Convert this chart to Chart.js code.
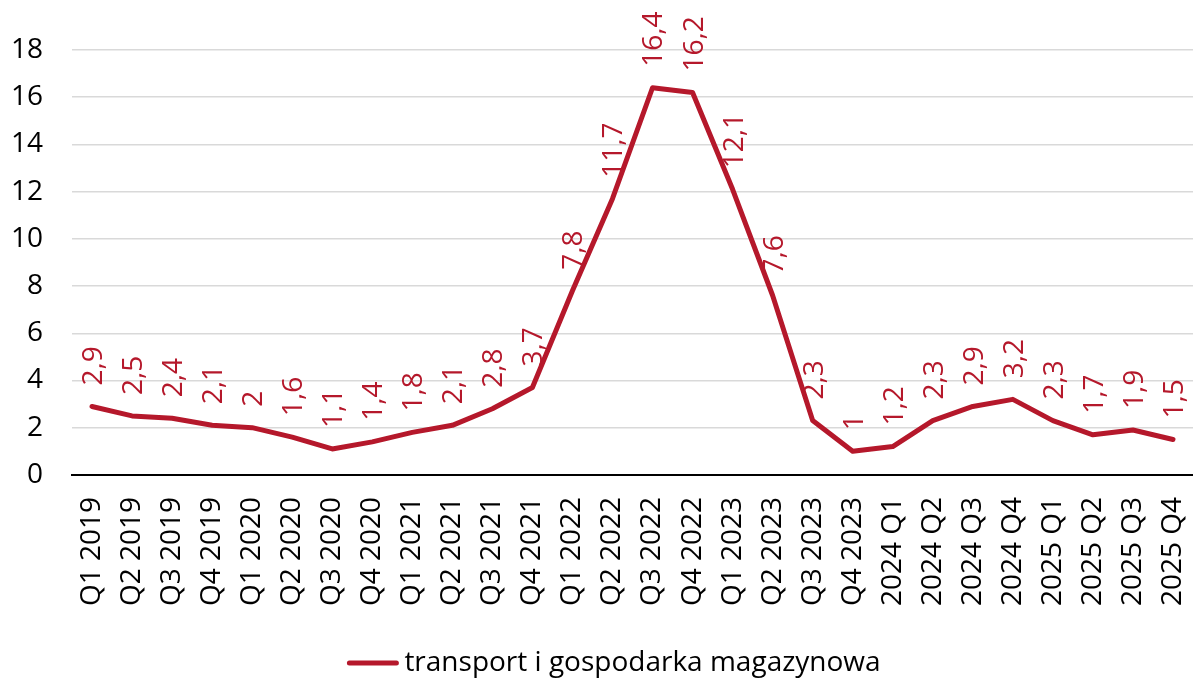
<!DOCTYPE html>
<html>
<head>
<meta charset="utf-8">
<script src="https://cdn.jsdelivr.net/npm/chart.js@4"></script>
<style>
  html, body { margin: 0; padding: 0; background: #fff; }
  #wrap { width: 1193px; height: 679px; }
</style>
</head>
<body>
<div id="wrap"><canvas id="c" width="1193" height="679"></canvas></div>
<script>
// --- data
var quarters = ['Q1 2019', 'Q2 2019', 'Q3 2019', 'Q4 2019', 'Q1 2020', 'Q2 2020', 'Q3 2020', 'Q4 2020',
    'Q1 2021', 'Q2 2021', 'Q3 2021', 'Q4 2021', 'Q1 2022', 'Q2 2022', 'Q3 2022', 'Q4 2022',
    'Q1 2023', 'Q2 2023', 'Q3 2023', 'Q4 2023', '2024 Q1', '2024 Q2', '2024 Q3', '2024 Q4',
    '2025 Q1', '2025 Q2', '2025 Q3', '2025 Q4'];
var transport = [2.9, 2.5, 2.4, 2.1, 2, 1.6, 1.1, 1.4, 1.8, 2.1, 2.8, 3.7, 7.8, 11.7, 16.4, 16.2,
    12.1, 7.6, 2.3, 1, 1.2, 2.3, 2.9, 3.2, 2.3, 1.7, 1.9, 1.5];
var seriesName = 'transport i gospodarka magazynowa';
var yTicks = [0, 2, 4, 6, 8, 10, 12, 14, 16, 18];

var red = '#B5182B';
var fontFam = "'Open Sans', 'Liberation Sans', sans-serif";
var fontSize = 28;

// value labels above each point, turned on their side
var pointLabels = {
    id: 'pointLabels',
    afterDatasetsDraw: function (chart) {
        var ctx = chart.ctx;
        var meta = chart.getDatasetMeta(0);
        ctx.save();
        ctx.fillStyle = red;
        ctx.font = fontSize + 'px ' + fontFam;
        ctx.textAlign = 'left';
        ctx.textBaseline = 'middle';
        meta.data.forEach(function (pt, i) {
            var txt = String(transport[i]).replace('.', ',');
            ctx.save();
            ctx.translate(pt.x + 2, pt.y - 21);
            ctx.rotate(-Math.PI / 2);
            ctx.fillText(txt, 0, 0);
            ctx.restore();
        });
        ctx.restore();
    }
};

// legend at the bottom: short thick line + text, tight gap like the original
var bottomLegend = {
    id: 'bottomLegend',
    afterDraw: function (chart) {
        var ctx = chart.ctx;
        ctx.save();
        ctx.font = fontSize + 'px ' + fontFam;
        var tw = ctx.measureText(seriesName).width;
        var lineW = 53, gap = 5;
        var total = lineW + gap + tw;
        var x0 = (chart.width - total) / 2 + 17;
        var y = 663;
        ctx.strokeStyle = red;
        ctx.lineWidth = 5;
        ctx.lineCap = 'round';
        ctx.beginPath();
        ctx.moveTo(x0 + 3, y);
        ctx.lineTo(x0 + lineW - 3, y);
        ctx.stroke();
        ctx.fillStyle = '#000';
        ctx.textBaseline = 'middle';
        ctx.fillText(seriesName, x0 + lineW + gap, y);
        ctx.restore();
    }
};

var ctx = document.getElementById('c');
new Chart(ctx, {
    type: 'line',
    data: {
        labels: quarters,
        datasets: [{
            label: seriesName,
            data: transport,
            borderColor: red,
            backgroundColor: red,
            borderWidth: 5,
            pointRadius: 0,
            tension: 0,
            borderJoinStyle: 'round',
            borderCapStyle: 'round'
        }]
    },
    options: {
        responsive: false,
        animation: false,
        layout: { padding: { top: 50, right: 0, left: 10, bottom: 51 } },
        plugins: {
            legend: { display: false },
            tooltip: { enabled: false }
        },
        scales: {
            x: {
                offset: true,
                afterFit: function (axis) {
                    // let the plot run to the edges like the original
                    axis.paddingLeft = 0;
                    axis.paddingRight = 0;
                },
                grid: { display: false, drawTicks: false },
                border: { color: '#000', width: 2 },
                ticks: {
                    color: '#000',
                    font: { size: fontSize, family: fontFam },
                    maxRotation: 90,
                    minRotation: 90,
                    autoSkip: false,
                    padding: 22
                }
            },
            y: {
                min: 0,
                max: 18,
                afterBuildTicks: function (axis) {
                    axis.ticks = yTicks.map(function (v) { return { value: v }; });
                },
                afterFit: function (axis) {
                    axis.width = 62;
                },
                grid: { color: '#d9d9d9', lineWidth: 1.5, drawTicks: false },
                border: { display: false },
                ticks: {
                    color: '#000',
                    font: { size: fontSize, family: fontFam },
                    padding: 29
                }
            }
        }
    },
    plugins: [pointLabels, bottomLegend]
});
</script>
</body>
</html>
